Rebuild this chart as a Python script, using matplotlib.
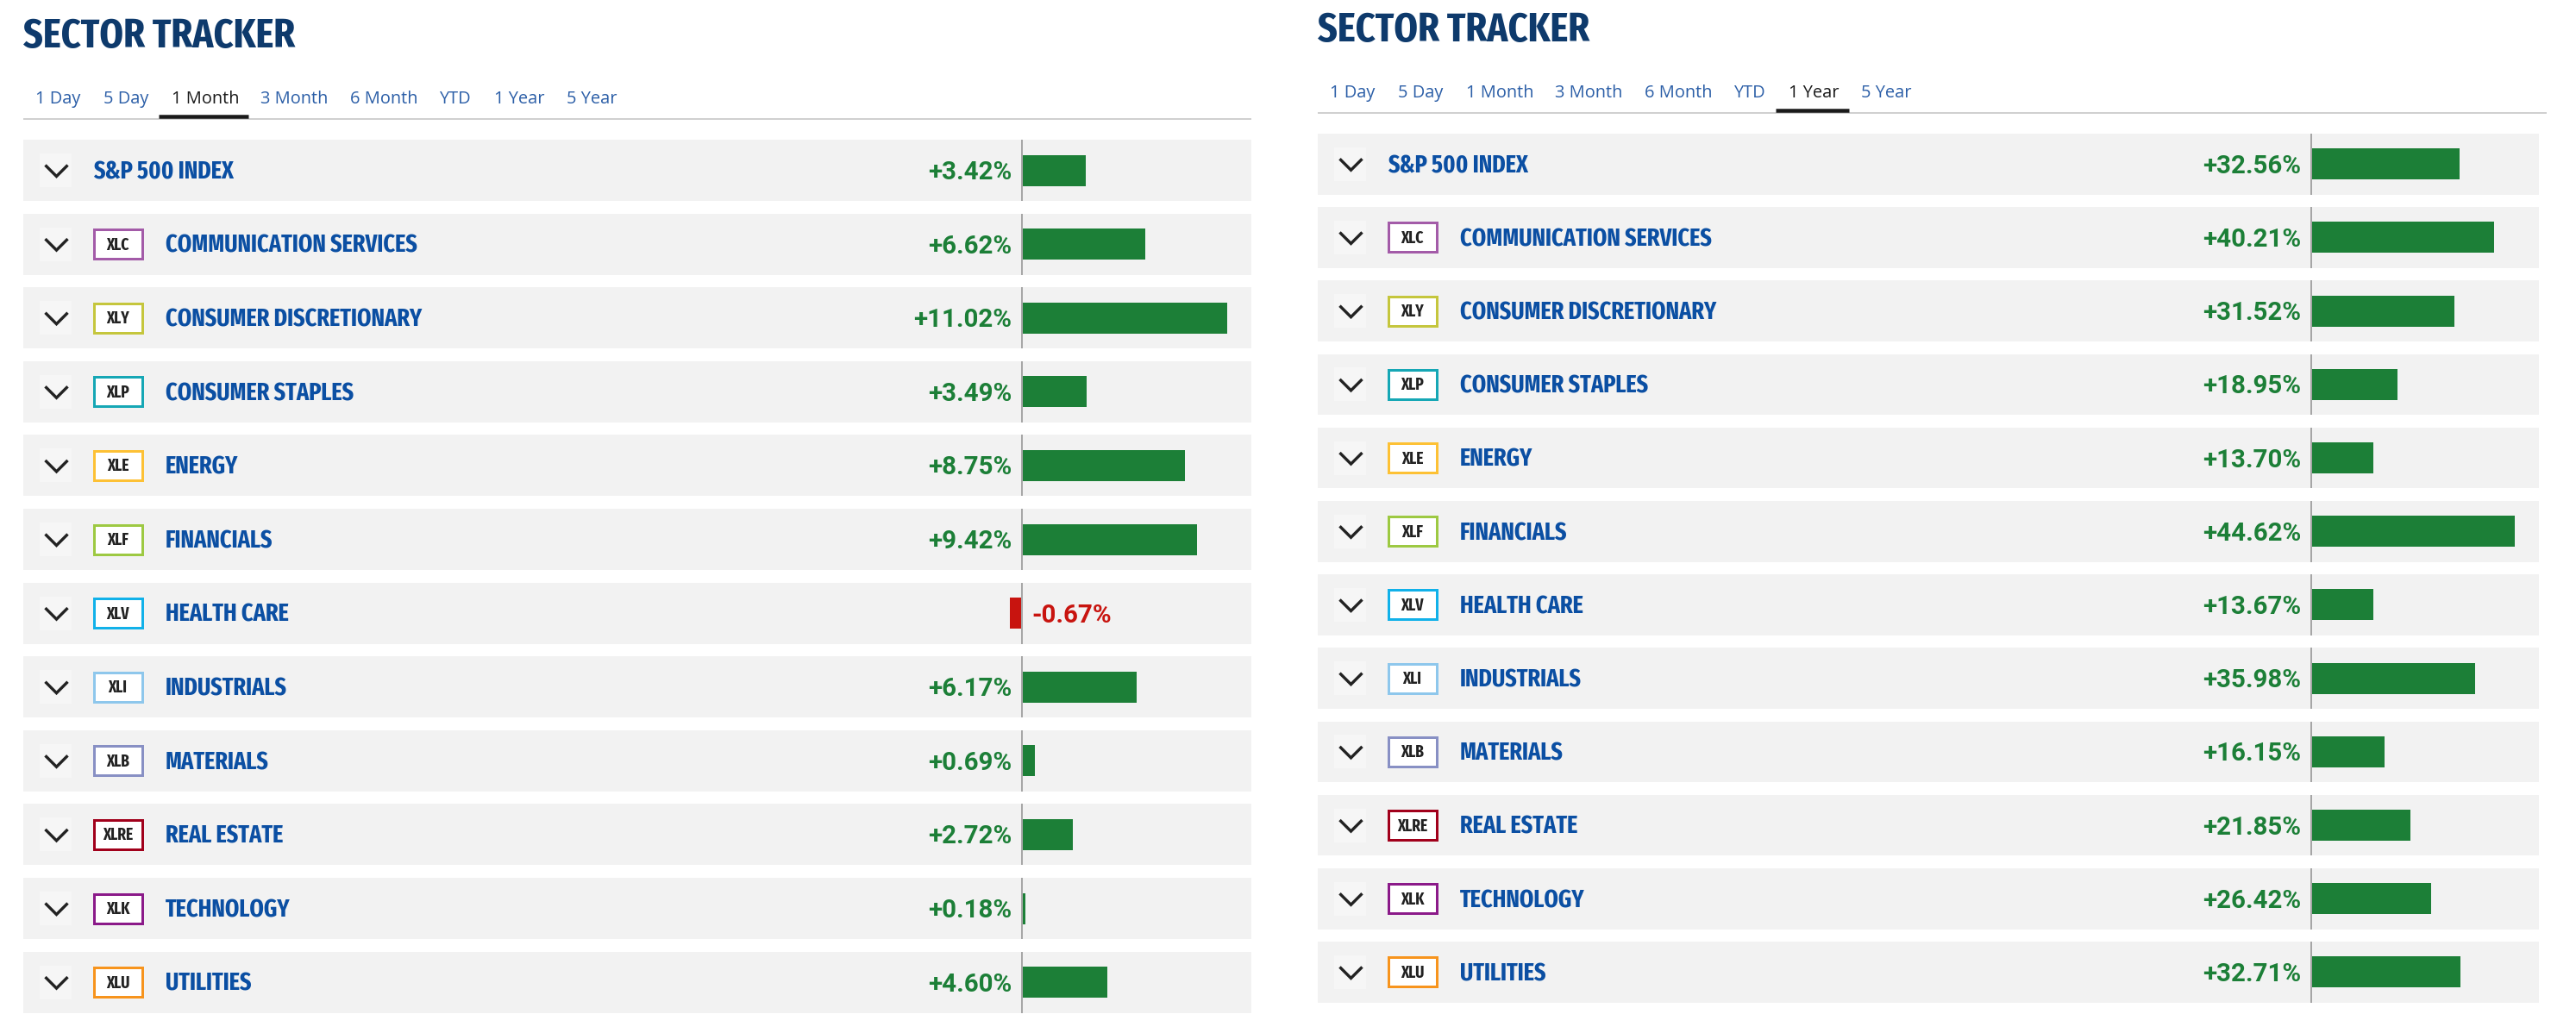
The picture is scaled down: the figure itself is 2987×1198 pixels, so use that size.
import matplotlib
matplotlib.use('Agg')
import matplotlib.pyplot as plt
from matplotlib.patches import Rectangle
from matplotlib.textpath import TextPath
from matplotlib.font_manager import FontProperties, fontManager

# ---------------- data ----------------
sectors = ['S&P 500 INDEX', 'COMMUNICATION SERVICES', 'CONSUMER DISCRETIONARY',
           'CONSUMER STAPLES', 'ENERGY', 'FINANCIALS', 'HEALTH CARE',
           'INDUSTRIALS', 'MATERIALS', 'REAL ESTATE', 'TECHNOLOGY', 'UTILITIES']
tickers = ['', 'XLC', 'XLY', 'XLP', 'XLE', 'XLF', 'XLV', 'XLI', 'XLB', 'XLRE', 'XLK', 'XLU']
periods = ['1 Day', '5 Day', '1 Month', '3 Month', '6 Month', 'YTD', '1 Year', '5 Year']
month_values = [3.42, 6.62, 11.02, 3.49, 8.75, 9.42, -0.67, 6.17, 0.69, 2.72, 0.18, 4.60]
year_values = [32.56, 40.21, 31.52, 18.95, 13.70, 44.62, 13.67, 35.98, 16.15, 21.85, 26.42, 32.71]
panel_title = 'SECTOR TRACKER'
selected_periods = ['1 Month', '1 Year']

# ---------------- styles ----------------
ticker_colors = {'XLC': '#a35ba8', 'XLY': '#c5c63d', 'XLP': '#16a7b5', 'XLE': '#fdc135',
                 'XLF': '#9dc942', 'XLV': '#11b1e9', 'XLI': '#8ec7ec', 'XLB': '#8890c4',
                 'XLRE': '#a1001b', 'XLK': '#8b1a89', 'XLU': '#f7941d'}
TITLE_C = '#0e3a6c'
NAME_C = '#0b4fa3'
TAB_C = '#2b5ea7'
SEL_C = '#1a1a1a'
GREEN = '#1c7f37'
RED = '#c8140f'
ROW_BG = '#f2f2f2'
ZERO_C = '#a6a6a6'

W, H, DPI = 2987, 1198, 100


def pick_condensed():
    entries = fontManager.ttflist
    names = {f.name for f in entries}
    for p in ['Fira Sans Extra Condensed', 'Fira Sans Condensed', 'Roboto Condensed',
              'Open Sans Condensed', 'Liberation Sans Narrow', 'Noto Sans Condensed',
              'Arial Narrow']:
        if p in names:
            return dict(family=p)
    cond = [f for f in entries
            if str(f.stretch) in ('condensed', 'semi-condensed', 'extra-condensed')]
    for fam in ['Noto Sans', 'Open Sans', 'Roboto', 'DejaVu Sans', 'Liberation Sans']:
        for f in cond:
            if f.name == fam:
                return dict(family=fam, stretch=f.stretch)
    for f in entries:
        if 'Narrow' in f.name or 'Condensed' in f.name:
            return dict(family=f.name)
    return dict(family='DejaVu Sans')


COND = pick_condensed()


def make_fp(base, weight):
    return FontProperties(weight=weight, **base)


def ink(s, fp):
    ext = TextPath((0, 0), s, size=100, prop=fp).get_extents()
    return ext.width / 100.0, ext.height / 100.0


def fit(fp, sample, target_w, target_cap, width_only=False):
    w_r, _ = ink(sample, fp)
    cap_r = ink('H', fp)[1]
    size_w = target_w * 72 / DPI / w_r
    size_c = target_cap * 72 / DPI / cap_r
    if width_only:
        size = size_w
    else:
        size = size_c if size_w >= size_c else 0.5 * (size_w + size_c)
    f = fp.copy()
    f.set_size(size)
    return f, cap_r * size * DPI / 72.0


fp_title, cap_title = fit(make_fp(COND, 'bold'), panel_title, 298, 35)
fp_name, cap_name = fit(make_fp(COND, 'bold'), 'COMMUNICATION SERVICES', 288, 20)
fp_tick, cap_tick = fit(make_fp(COND, 'bold'), 'XLRE', 34, 13.5)
fp_tab, cap_tab = fit(FontProperties(family='Open Sans', weight='normal'), '1 Month', 75, 15,
                      width_only=True)
fp_val, cap_val = fit(FontProperties(family='Roboto', weight='bold'), '+11.02%', 109, 21.5)

fig = plt.figure(figsize=(W / DPI, H / DPI), dpi=DPI)
fig.patch.set_facecolor('white')
bg = fig.add_axes([0, 0, 1, 1])
bg.set_xlim(0, W)
bg.set_ylim(H, 0)
bg.axis('off')

panels = [
    dict(values=month_values, sel=selected_periods[0], x0=27, x1=1451, zero=1185,
         scale=21.6, top=162, pitch=85.6, row_h=71, title_base=55, tab_base=120,
         ul_y=135, line_y=137.8, line_x1=1451),
    dict(values=year_values, sel=selected_periods[1], x0=1528, x1=2944, zero=2680,
         scale=5.28, top=155, pitch=85.2, row_h=70.5, title_base=48, tab_base=113,
         ul_y=128, line_y=130.8, line_x1=2953),
]

for p in panels:
    x0, x1 = p['x0'], p['x1']
    # title
    bg.text(x0, p['title_base'], panel_title, fontproperties=fp_title, color=TITLE_C,
            ha='left', va='baseline')
    # tabs
    tx = x0 + 14
    for per in periods:
        wpx = ink(per, fp_tab)[0] * fp_tab.get_size() * DPI / 72.0
        is_sel = per == p['sel']
        bg.text(tx, p['tab_base'], per, fontproperties=fp_tab,
                color=SEL_C if is_sel else TAB_C, ha='left', va='baseline')
        if is_sel:
            bg.plot([tx - 15, tx + wpx + 14], [p['ul_y'], p['ul_y']], color=SEL_C,
                    lw=4.5 * 0.72, solid_capstyle='butt', zorder=3)
        tx += wpx + 28
    bg.plot([x0, p['line_x1']], [p['line_y'], p['line_y']], color='#d0d0d0',
            lw=2 * 0.72, solid_capstyle='butt', zorder=2)

    # rows: background, chevron, ticker box, name
    n = len(sectors)
    for i, (name, tk) in enumerate(zip(sectors, tickers)):
        rt = p['top'] + i * p['pitch']
        c = rt + p['row_h'] / 2.0
        bg.add_patch(Rectangle((x0, rt), x1 - x0, p['row_h'], fc=ROW_BG, ec='none'))
        bg.add_patch(Rectangle((x0 + 19, c - 19.5), 37, 39, fc='#f6f6f6', ec='none'))
        bg.plot([x0 + 25.5, x0 + 38.5, x0 + 51.5], [c - 6, c + 7, c - 6], color='#222222',
                lw=3.4 * 0.72, solid_joinstyle='miter', solid_capstyle='butt')
        if tk:
            bg.add_patch(Rectangle((x0 + 81.5, c - 17), 56, 34, fc='white',
                                   ec=ticker_colors[tk], lw=3 * 0.72))
            bg.text(x0 + 109.5, c + cap_tick / 2.0, tk, fontproperties=fp_tick,
                    color='#222222', ha='center', va='baseline')
            nx = x0 + 165
        else:
            nx = x0 + 81
        bg.text(nx, c + cap_name / 2.0, name, fontproperties=fp_name, color=NAME_C,
                ha='left', va='baseline')

    # bars axes in percent units
    span = (n - 1) * p['pitch'] + p['row_h']
    ax = fig.add_axes([x0 / W, 1 - (p['top'] + span) / H, (x1 - x0) / W, span / H])
    ax.patch.set_alpha(0)
    ax.axis('off')
    hfrac = p['row_h'] / p['pitch']
    ax.set_ylim(n - 1 + hfrac / 2.0, -hfrac / 2.0)
    ax.set_xlim((x0 - p['zero']) / p['scale'], (x1 - p['zero']) / p['scale'])
    ys = list(range(n))
    vals = p['values']
    ax.barh(ys, vals, height=36 / p['pitch'],
            color=[GREEN if v >= 0 else RED for v in vals], edgecolor='none', zorder=2)
    ax.vlines([0] * n, [y - hfrac / 2.0 for y in ys], [y + hfrac / 2.0 for y in ys],
              color=ZERO_C, lw=2 * 0.72, zorder=3)
    for y, v in zip(ys, vals):
        if v >= 0:
            ax.annotate(f'{v:+.2f}%', xy=(0, y), xytext=(-12, -cap_val / 2.0),
                        textcoords='offset pixels', ha='right', va='baseline',
                        fontproperties=fp_val, color=GREEN)
        else:
            ax.annotate(f'{v:+.2f}%', xy=(0, y), xytext=(11, -cap_val / 2.0),
                        textcoords='offset pixels', ha='left', va='baseline',
                        fontproperties=fp_val, color=RED)

fig.savefig('out.png', dpi=DPI, facecolor='white')
